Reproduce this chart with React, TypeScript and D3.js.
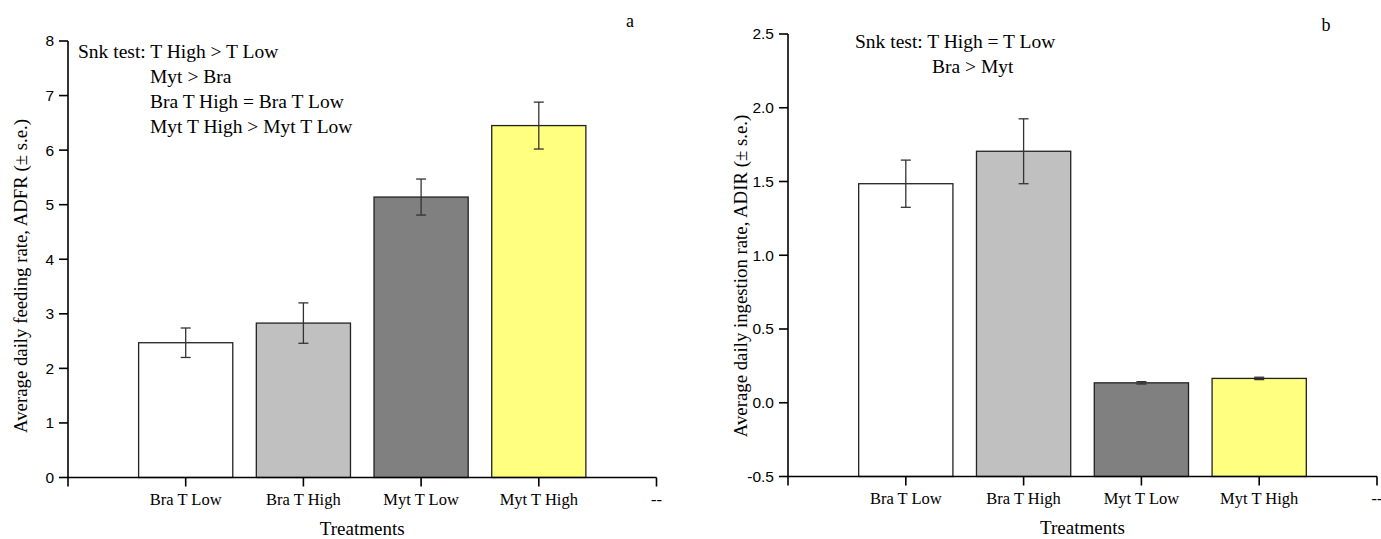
import { scaleLinear } from "d3";

// treatments and values
const treatments = ["Bra T Low", "Bra T High", "Myt T Low", "Myt T High"];
const barColors = ["#ffffff", "#c0c0c0", "#808080", "#ffff80"];

// panel a: ADFR
const adfrMean = [2.47, 2.83, 5.14, 6.45];
const adfrSe = [0.27, 0.37, 0.33, 0.43];
const adfrTicks = [0, 1, 2, 3, 4, 5, 6, 7, 8];

// panel b: ADIR
const adirMean = [1.485, 1.705, 0.135, 0.165];
const adirSe = [0.16, 0.22, 0.008, 0.008];
const adirTicks = [-0.5, 0, 0.5, 1.0, 1.5, 2.0, 2.5];

const notesA = ["Snk test: T High > T Low", "Myt > Bra", "Bra T High = Bra T Low", "Myt T High > Myt T Low"];
const notesB = ["Snk test: T High = T Low", "Bra > Myt"];

const serif = "'Liberation Serif', 'Times New Roman', serif";
const sans = "'Liberation Sans', Arial, sans-serif";

type PanelProps = {
  left: number;
  right: number;
  top: number;
  bottom: number;
  yDomain: [number, number];
  yTicks: number[];
  yFmt: (v: number) => string;
  means: number[];
  ses: number[];
  yLabel: string;
  letter: string;
  letterX: number;
  letterY: number;
  notes: string[];
  noteX: number[];
  noteY: number;
};

const Panel = (p: PanelProps) => {
  const x = scaleLinear().domain([0, 5]).range([p.left, p.right]);
  const y = scaleLinear().domain(p.yDomain).range([p.bottom, p.top]);
  const bw = x(0.8) - x(0);
  const xt = [1, 2, 3, 4, 5];
  const labelY = 276;
  return (
    <g>
      {/* bars */}
      {p.means.map((m, i) => (
        <rect
          key={"b" + i}
          x={x(i + 1) - bw / 2}
          y={y(m)}
          width={bw}
          height={y(p.yDomain[0]) - y(m)}
          fill={barColors[i]}
          stroke="#222"
          strokeWidth={1.3}
        />
      ))}
      {/* error bars */}
      {p.means.map((m, i) => {
        const cx = x(i + 1);
        const hi = y(m + p.ses[i]);
        const lo = y(m - p.ses[i]);
        return (
          <g key={"e" + i} stroke="#333" strokeWidth={1.3}>
            <line x1={cx} x2={cx} y1={hi} y2={lo} />
            <line x1={cx - 5} x2={cx + 5} y1={hi} y2={hi} />
            <line x1={cx - 5} x2={cx + 5} y1={lo} y2={lo} />
          </g>
        );
      })}
      {/* y axis */}
      <line x1={p.left} x2={p.left} y1={p.top} y2={p.bottom + 9} stroke="#000" strokeWidth={1.6} />
      {p.yTicks.map((t) => (
        <g key={"y" + t}>
          <line x1={p.left - 9} x2={p.left} y1={y(t)} y2={y(t)} stroke="#000" strokeWidth={1.6} />
          <text x={p.left - 14} y={y(t)} dy="0.35em" textAnchor="end" fontFamily={sans} fontSize={15.5}>
            {p.yFmt(t)}
          </text>
        </g>
      ))}
      {/* x axis */}
      <line x1={p.left} x2={p.right} y1={p.bottom} y2={p.bottom} stroke="#000" strokeWidth={1.6} />
      {xt.map((t) => (
        <g key={"x" + t}>
          <line x1={x(t)} x2={x(t)} y1={p.bottom} y2={p.bottom + 9} stroke="#000" strokeWidth={1.6} />
          <text x={x(t)} y={p.bottom + 27} textAnchor="middle" fontFamily={serif} fontSize={16.5}>
            {t <= 4 ? treatments[t - 1] : "--"}
          </text>
        </g>
      ))}
      <text x={x(2.5)} y={p.bottom + 57} textAnchor="middle" fontFamily={serif} fontSize={19}>
        Treatments
      </text>
      <text
        transform={`translate(${p.left - 41},${labelY}) rotate(-90)`}
        textAnchor="middle"
        fontFamily={serif}
        fontSize={18.8}
      >
        {p.yLabel}
      </text>
      <text x={p.letterX} y={p.letterY} textAnchor="middle" fontFamily={serif} fontSize={18}>
        {p.letter}
      </text>
      {p.notes.map((n, i) => (
        <text key={"n" + i} x={p.noteX[i]} y={p.noteY + i * 25} fontFamily={serif} fontSize={19.5}>
          {n}
        </text>
      ))}
    </g>
  );
};

const App = () => {
  return (
    <svg
      width={1381}
      height={539}
      style={{ position: "absolute", left: 0, top: 0, background: "#fff" }}
    >
      <Panel
        left={68}
        right={656.5}
        top={41}
        bottom={477.5}
        yDomain={[0, 8]}
        yTicks={adfrTicks}
        yFmt={(v) => String(v)}
        means={adfrMean}
        ses={adfrSe}
        yLabel="Average daily feeding rate, ADFR (± s.e.)"
        letter="a"
        letterX={630}
        letterY={27}
        notes={notesA}
        noteX={[78, 150, 150, 150]}
        noteY={58}
      />
      <Panel
        left={788}
        right={1377}
        top={34}
        bottom={476.5}
        yDomain={[-0.5, 2.5]}
        yTicks={adirTicks}
        yFmt={(v) => v.toFixed(1)}
        means={adirMean}
        ses={adirSe}
        yLabel="Average daily ingestion rate, ADIR (± s.e.)"
        letter="b"
        letterX={1326}
        letterY={31}
        notes={notesB}
        noteX={[855, 932]}
        noteY={48}
      />
    </svg>
  );
};

export default App;
